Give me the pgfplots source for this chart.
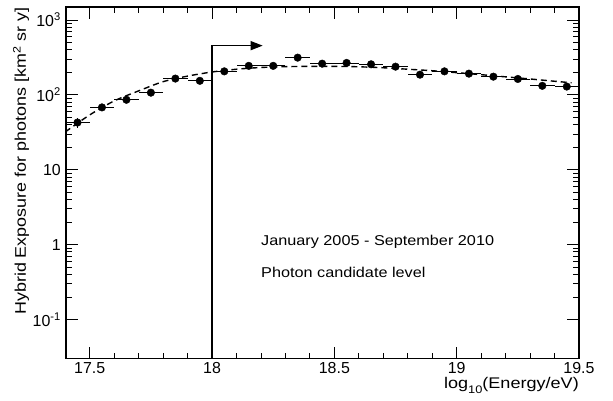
\documentclass[border=0pt]{standalone}
\usepackage{fontspec}
\setmainfont{Liberation Sans}
\usepackage{pgfplots}
\usepackage{pgfplotstable}
\pgfplotsset{compat=1.18}
\usetikzlibrary{arrows.meta}

% exposure per 0.1 bin in log10(E/eV)
\pgfplotstableread{
x      y     ex    ey
17.45  42.7  0.05  6.5
17.55  68    0.05  3.4
17.65  86    0.05  4.3
17.75  107   0.05  5.3
17.85  165   0.05  8
17.95  154   0.05  8
18.05  206   0.05  10
18.15  244   0.05  12
18.25  244   0.05  12
18.35  314   0.05  15
18.45  261   0.05  13
18.55  267   0.05  13
18.65  256   0.05  13
18.75  238   0.05  12
18.85  186   0.05  9
18.95  206   0.05  10
19.05  192   0.05  10
19.15  175   0.05  9
19.25  163   0.05  8
19.35  132   0.05  7
19.45  129   0.05  6
}\exposure

% ROOT text comes out a little wide
\newcommand{\wide}[2][1.15]{\scalebox{#1}[1]{#2}}

\begin{document}
\fontsize{16}{19}\selectfont
\begin{tikzpicture}
  % page size, axis box at (0,0)
  \path (-66bp,-42.3bp) rectangle (547bp,358.7bp);
  \begin{axis}[
      at={(0,0)}, anchor=south west,
      scale only axis,
      width=513bp, height=351.7bp,
      ymode=log,
      xmin=17.403, xmax=19.5,
      ymin=0.03, ymax=1490,
      xtick={17.5,18,18.5,19,19.5},
      xticklabels={17.5,18,18.5,19,19.5},
      minor x tick num=4,
      ytick={0.1,1,10,100,1000},
      yticklabels={10\textsuperscript{-1},1,10,10\textsuperscript{2},10\textsuperscript{3}},
      xticklabel style={inner sep=0pt, yshift=-3.5bp},
      yticklabel style={inner sep=0pt, xshift=-5bp},
      major tick length=12bp,
      minor tick length=6bp,
      tick style={black, line width=0.9bp},
      axis line style={line width=1.2bp},
      xlabel={\wide[1.17]{log\raisebox{-5bp}{\fontsize{11}{11}\selectfont 10}(Energy/eV)}},
      xlabel style={at={(axis description cs:1,0)}, anchor=north east,
        inner sep=0pt, yshift=-18.5bp, font=\fontsize{15.5}{18}\selectfont},
      ylabel={\wide[1.16]{Hybrid Exposure for photons {[}km\textsuperscript{2} sr y{]}}},
      ylabel style={at={(axis description cs:-0.0877,0.999)}, anchor=east,
        inner sep=0pt, font=\fontsize{15.5}{18}\selectfont},
    ]
    % threshold arrow
    \addplot[black, line width=1.3bp, -{Triangle[length=12bp,width=9bp]}]
      coordinates {(18,0.03) (18,454) (18.207,454)};
    % fit
    \addplot[black, line width=1.4bp, dash pattern=on 6bp off 4bp, smooth]
      coordinates {
        (17.40,32) (17.50,54) (17.60,83) (17.70,113) (17.80,150)
        (17.90,178) (18.00,202) (18.10,220) (18.20,232) (18.30,238)
        (18.40,240) (18.50,240) (18.60,237) (18.70,230) (18.80,220)
        (18.90,210) (19.00,198) (19.10,186) (19.20,174) (19.30,163)
        (19.40,152) (19.47,145)
      };
    % data
    \addplot[black, only marks, mark=*, mark size=3.8bp,
      error bars/.cd, x dir=both, x explicit, y dir=both, y explicit,
      error mark=none, error bar style={line width=0.8bp}]
      table[x=x, y=y, x error=ex, y error=ey] {\exposure};

    \node[anchor=west, inner sep=0pt, font=\fontsize{14.3}{17}\selectfont]
      at (axis cs:18.2,1.1) {\wide[1.14]{January 2005 - September 2010}};
    \node[anchor=west, inner sep=0pt, font=\fontsize{14.3}{17}\selectfont]
      at (axis cs:18.2,0.425) {\wide[1.14]{Photon candidate level}};
  \end{axis}
\end{tikzpicture}
\end{document}
